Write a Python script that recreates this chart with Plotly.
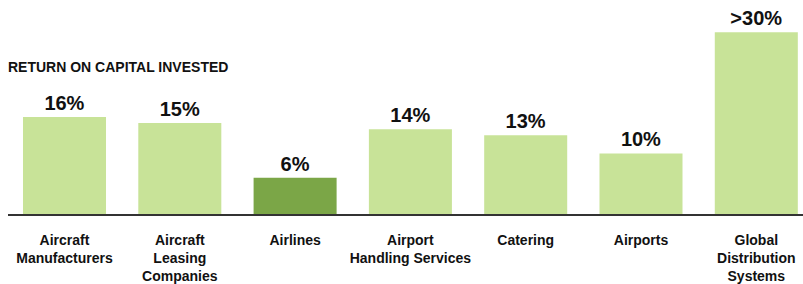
import plotly.graph_objects as go

categories = ["Aircraft<br>Manufacturers", "Aircraft<br>Leasing<br>Companies", "Airlines",
              "Airport<br>Handling Services", "Catering", "Airports",
              "Global<br>Distribution<br>Systems"]
values = [16, 15, 6, 14, 13, 10, 30]
value_labels = ["16%", "15%", "6%", "14%", "13%", "10%", ">30%"]
highlight = [False, False, True, False, False, False, False]

LIGHT = "#c8e398"
DARK = "#7ba647"
FONT = "Liberation Sans, Arial, Helvetica, sans-serif"

x_pos = list(range(len(categories)))
colors = [DARK if h else LIGHT for h in highlight]

fig = go.Figure(go.Bar(
    x=x_pos, y=values, width=0.72,
    marker=dict(color=colors, line=dict(width=0)),
    text=value_labels, textposition="outside",
    textfont=dict(family=FONT, size=20, color="#111111", weight="bold"),
    cliponaxis=False, hoverinfo="skip",
))

fig.update_layout(
    width=803, height=284,
    margin=dict(l=8, r=0, t=20, b=70),
    paper_bgcolor="white", plot_bgcolor="white",
    showlegend=False,
    bargap=0.28,
    xaxis=dict(
        range=[-0.49, 6.405], tickmode="array", tickvals=x_pos, ticktext=categories,
        showline=True, linecolor="#333333", linewidth=1.5, showgrid=False, zeroline=False,
        ticks="outside", ticklen=12, tickcolor="rgba(0,0,0,0)",
        tickfont=dict(family=FONT, size=14, color="#111111", weight="bold"),
        fixedrange=True, automargin=False,
    ),
    yaxis=dict(range=[0, 32], visible=False, fixedrange=True),
    annotations=[dict(
        text="RETURN ON CAPITAL INVESTED", xref="paper", yref="paper",
        x=-0.003, y=(214 - 67) / 194, xanchor="left", yanchor="middle", showarrow=False,
        font=dict(family=FONT, size=14, color="#111111", weight="bold"),
    )],
)

fig.write_html("out.html", config={"displayModeBar": False},
               post_script="document.body.style.margin='0';")
